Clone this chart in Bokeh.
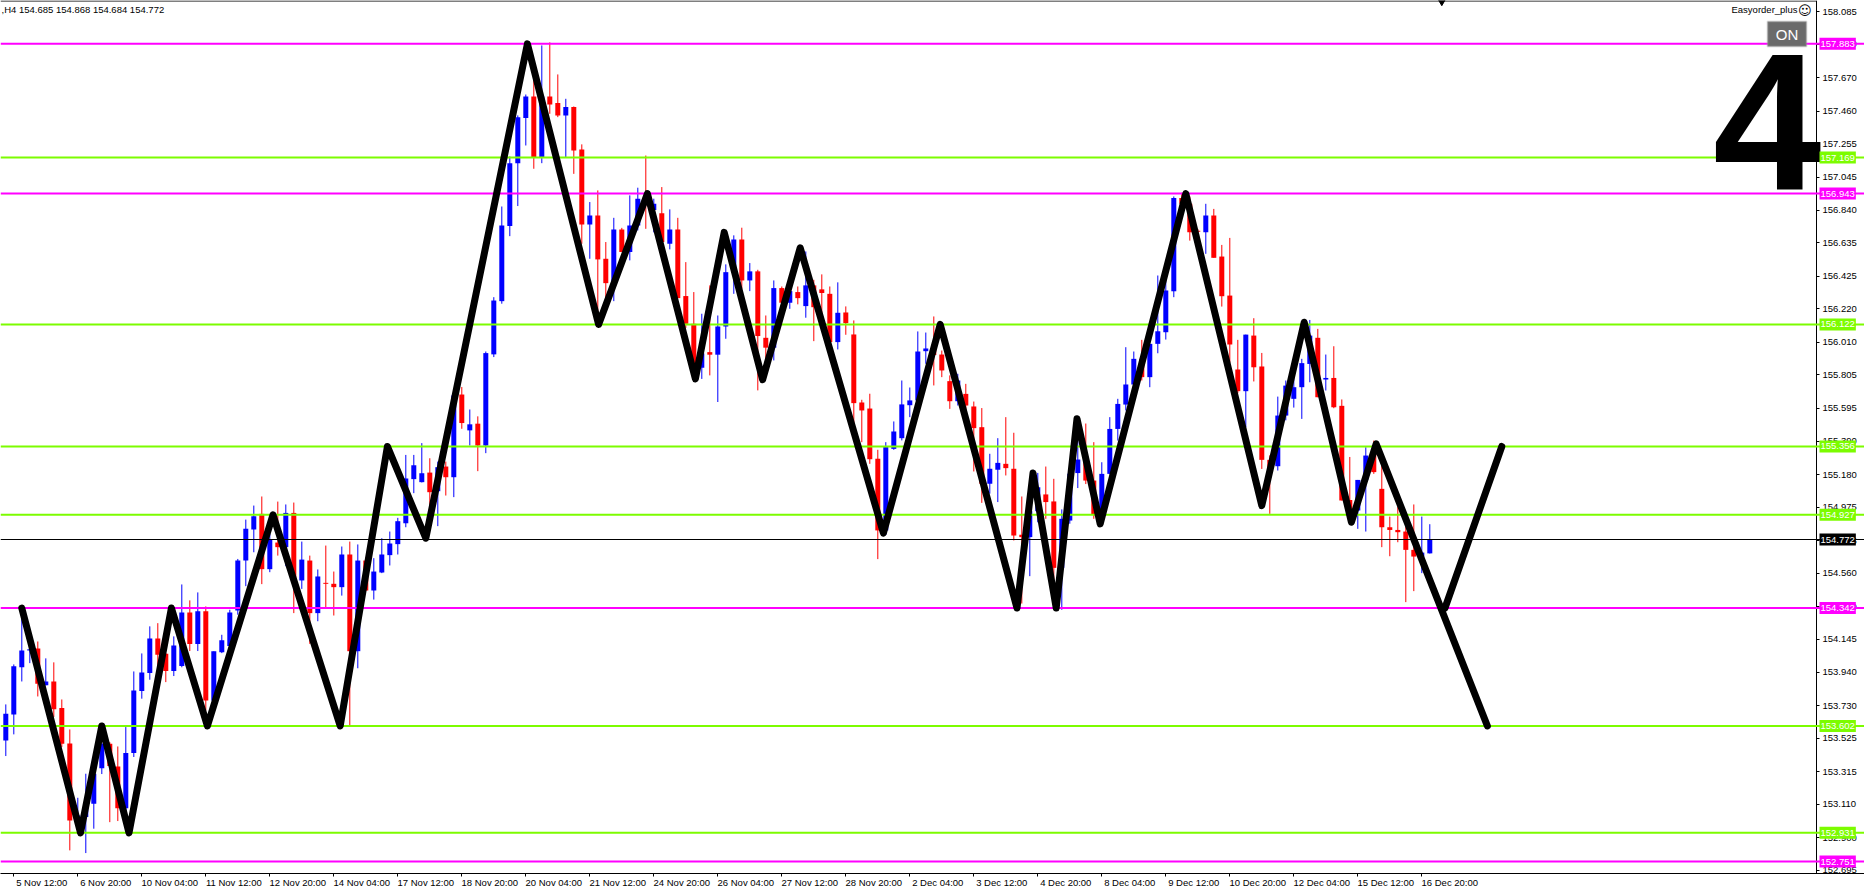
from bokeh.plotting import figure
from bokeh.models import (Span, Label, FixedTicker, PrintfTickFormatter, BoxAnnotation,
                          ColumnDataSource, Range1d, LinearAxis)
from bokeh.embed import file_html
from bokeh.resources import INLINE

# ---------------- data (H4 bars) ----------------
opens = [
    153.511, 153.674, 153.971, 154.076, 154.088, 153.858, 153.881, 153.714, 153.492, 153.009,
    153.030, 153.114, 153.337, 153.490, 153.348, 153.086, 153.432, 153.821, 153.934, 154.151,
    154.055, 153.946, 153.978, 154.314, 154.116, 154.321, 153.762, 154.065, 154.103, 154.327,
    154.640, 154.835, 154.933, 154.586, 154.753, 154.724, 154.939, 154.515, 154.640, 154.310,
    154.500, 154.494, 154.473, 154.678, 154.071, 154.640, 154.452, 154.565, 154.674, 154.743,
    154.874, 155.151, 155.132, 155.192, 155.075, 155.230, 155.163, 155.682, 155.457, 155.499,
    155.362, 155.934, 156.268, 156.739, 157.134, 157.417, 157.553, 157.172, 157.553, 157.511,
    157.434, 157.486, 157.220, 156.749, 156.806, 156.534, 156.381, 156.718, 156.576, 156.743,
    156.911, 156.840, 156.820, 156.628, 156.718, 156.300, 156.126, 155.850, 155.948, 155.932,
    156.109, 156.450, 156.655, 156.398, 156.455, 156.038, 155.976, 156.350, 156.258, 156.325,
    156.237, 156.367, 156.342, 156.314, 156.011, 156.197, 156.059, 155.632, 155.594, 155.279,
    154.829, 155.341, 155.408, 155.615, 155.645, 155.954, 155.971, 155.933, 155.766, 155.640,
    155.686, 155.607, 155.477, 155.122, 155.210, 155.247, 155.216, 154.802, 154.787, 154.950,
    155.055, 155.011, 154.594, 154.891, 155.189, 155.274, 155.142, 154.927, 155.184, 155.466,
    155.619, 155.745, 155.906, 155.791, 156.000, 156.073, 156.330, 156.916, 156.880, 156.710,
    156.701, 156.805, 156.548, 156.303, 155.839, 155.703, 156.052, 155.858, 155.272, 155.232,
    155.550, 155.655, 155.728, 155.874, 156.038, 155.776, 155.786, 155.611, 155.020, 154.954,
    155.146, 155.310, 155.090, 154.849, 154.832, 154.822, 154.707, 154.665, 154.685,
]
highs = [
    153.737, 153.988, 154.352, 154.097, 154.132, 154.026, 154.001, 153.768, 153.580, 153.151,
    153.302, 153.310, 153.595, 153.500, 153.473, 153.595, 153.944, 154.057, 154.227, 154.247,
    154.060, 154.164, 154.490, 154.390, 154.440, 154.352, 154.070, 154.174, 154.331, 154.650,
    154.897, 154.985, 155.042, 154.807, 155.010, 154.992, 155.004, 154.759, 154.671, 154.584,
    154.734, 154.571, 154.728, 154.759, 154.741, 154.660, 154.655, 154.780, 154.822, 154.908,
    155.303, 155.303, 155.377, 155.282, 155.261, 155.261, 155.690, 155.729, 155.588, 155.545,
    155.952, 156.293, 156.862, 157.176, 157.434, 157.565, 157.700, 157.873, 157.892, 157.691,
    157.538, 157.490, 157.252, 156.890, 156.963, 156.639, 156.791, 156.728, 156.932, 156.980,
    157.182, 156.911, 156.984, 156.844, 156.791, 156.513, 156.325, 156.189, 156.367, 156.178,
    156.499, 156.681, 156.729, 156.507, 156.465, 156.178, 156.398, 156.360, 156.360, 156.360,
    156.580, 156.402, 156.436, 156.360, 156.386, 156.235, 156.147, 155.649, 155.687, 155.335,
    155.383, 155.513, 155.770, 155.726, 156.078, 156.071, 156.172, 155.958, 155.802, 155.812,
    155.749, 155.638, 155.597, 155.310, 155.408, 155.540, 155.442, 155.042, 155.150, 155.190,
    155.230, 155.153, 154.961, 155.195, 155.530, 155.500, 155.383, 155.257, 155.540, 155.655,
    155.979, 155.952, 156.025, 156.000, 156.429, 156.397, 156.925, 156.948, 156.925, 156.720,
    156.879, 156.847, 156.621, 156.665, 156.025, 156.058, 156.161, 155.943, 155.300, 155.669,
    155.770, 155.800, 155.906, 156.150, 156.094, 155.933, 155.985, 155.651, 155.290, 155.146,
    155.351, 155.393, 155.236, 154.916, 154.975, 154.850, 154.992, 154.916, 154.868,
]
lows = [
    153.413, 153.549, 153.881, 153.996, 153.787, 153.856, 153.658, 153.469, 152.821, 152.925,
    152.804, 152.957, 153.300, 152.998, 153.005, 153.050, 153.407, 153.773, 153.892, 153.875,
    153.877, 153.915, 153.970, 154.072, 154.072, 153.699, 153.740, 154.059, 154.090, 154.300,
    154.479, 154.692, 154.492, 154.567, 154.671, 154.605, 154.310, 154.462, 154.117, 154.259,
    154.347, 154.295, 154.420, 153.605, 153.964, 154.450, 154.395, 154.561, 154.609, 154.678,
    154.849, 155.063, 155.130, 154.985, 154.856, 155.048, 155.038, 155.467, 155.362, 155.201,
    155.314, 155.917, 156.252, 156.676, 156.865, 157.245, 157.099, 157.134, 157.444, 157.423,
    157.172, 157.067, 156.628, 156.534, 156.126, 156.231, 156.268, 156.576, 156.524, 156.712,
    156.722, 156.700, 156.628, 156.593, 156.287, 156.100, 155.800, 155.780, 155.802, 155.635,
    156.032, 156.314, 156.346, 156.331, 155.708, 155.800, 155.896, 156.250, 156.220, 156.248,
    156.164, 156.017, 156.168, 156.011, 155.965, 156.057, 155.500, 155.383, 155.247, 154.649,
    154.800, 155.335, 155.394, 155.540, 155.640, 155.875, 155.739, 155.791, 155.592, 155.613,
    155.551, 155.199, 155.002, 155.060, 155.007, 155.174, 154.766, 154.370, 154.542, 154.880,
    154.902, 154.350, 154.331, 154.871, 155.095, 155.120, 154.902, 154.870, 155.180, 155.393,
    155.582, 155.728, 155.770, 155.728, 155.941, 156.027, 156.293, 156.820, 156.648, 156.690,
    156.565, 156.540, 156.234, 155.881, 155.690, 155.477, 155.764, 155.215, 154.933, 155.205,
    155.520, 155.600, 155.529, 155.759, 155.665, 155.707, 155.596, 155.017, 154.880, 154.839,
    154.822, 155.184, 154.724, 154.667, 154.755, 154.379, 154.448, 154.561, 154.684,
]
closes = [
    153.678, 153.976, 154.076, 154.084, 153.867, 153.881, 153.706, 153.490, 153.009, 153.040,
    153.114, 153.302, 153.490, 153.350, 153.086, 153.432, 153.825, 153.938, 154.151, 154.049,
    153.946, 154.107, 154.314, 154.116, 154.321, 153.762, 154.070, 154.139, 154.314, 154.640,
    154.839, 154.918, 154.586, 154.772, 154.724, 154.939, 154.515, 154.646, 154.310, 154.540,
    154.494, 154.473, 154.678, 154.071, 154.640, 154.452, 154.571, 154.678, 154.747, 154.887,
    155.155, 155.238, 155.188, 155.069, 155.226, 155.163, 155.676, 155.503, 155.495, 155.362,
    155.942, 156.272, 156.743, 157.134, 157.423, 157.553, 157.172, 157.553, 157.503, 157.434,
    157.486, 157.214, 156.749, 156.806, 156.530, 156.381, 156.718, 156.576, 156.743, 156.911,
    156.880, 156.880, 156.639, 156.718, 156.287, 156.126, 155.850, 155.940, 155.932, 156.109,
    156.450, 156.655, 156.398, 156.455, 156.049, 155.976, 156.350, 156.258, 156.331, 156.287,
    156.367, 156.230, 156.319, 156.011, 156.195, 156.130, 155.628, 155.582, 155.276, 154.829,
    155.352, 155.450, 155.620, 155.645, 155.952, 155.971, 155.930, 155.833, 155.640, 155.770,
    155.613, 155.471, 155.122, 155.216, 155.253, 155.220, 154.797, 154.787, 154.950, 155.100,
    155.007, 154.594, 154.902, 155.185, 155.274, 155.142, 154.927, 155.184, 155.466, 155.623,
    155.745, 155.906, 155.791, 156.000, 156.079, 156.335, 156.916, 156.880, 156.701, 156.703,
    156.805, 156.540, 156.299, 155.996, 155.703, 156.058, 155.853, 155.272, 155.200, 155.550,
    155.738, 155.728, 155.879, 156.052, 155.665, 155.786, 155.602, 155.017, 154.960, 155.146,
    155.299, 155.195, 154.849, 154.832, 154.818, 154.707, 154.665, 154.690, 154.772,
]

time_tick_bars = [1 + 8 * k for k in range(23)]
time_tick_labels = [
    "5 Nov 12:00", "6 Nov 20:00", "10 Nov 04:00", "11 Nov 12:00", "12 Nov 20:00",
    "14 Nov 04:00", "17 Nov 12:00", "18 Nov 20:00", "20 Nov 04:00", "21 Nov 12:00",
    "24 Nov 20:00", "26 Nov 04:00", "27 Nov 12:00", "28 Nov 20:00", "2 Dec 04:00",
    "3 Dec 12:00", "4 Dec 20:00", "8 Dec 04:00", "9 Dec 12:00", "10 Dec 20:00",
    "12 Dec 04:00", "15 Dec 12:00", "16 Dec 20:00",
]
price_ticks = [158.085, 157.880, 157.670, 157.460, 157.255, 157.045, 156.840, 156.635,
               156.425, 156.220, 156.010, 155.805, 155.595, 155.390, 155.180, 154.975,
               154.765, 154.560, 154.350, 154.145, 153.940, 153.730, 153.525, 153.315,
               153.110, 152.900, 152.695]

magenta_levels = [157.883, 156.943, 154.342, 152.751]
green_levels = [157.169, 156.122, 155.356, 154.927, 153.602, 152.931]

zigzag_x = [2.0, 9.34, 12.0, 15.4, 20.7, 25.2, 33.4, 41.8, 47.7, 52.5, 65.2, 74.1, 80.2,
            86.2, 89.8, 94.6, 99.3, 109.7, 116.8, 126.4, 128.4, 131.3, 133.9, 136.8,
            147.5, 157.0, 162.3, 168.2, 171.3, 185.2]
zigzag_y = [154.342, 152.931, 153.602, 152.931, 154.342, 153.602, 154.927, 153.602,
            155.356, 154.780, 157.883, 156.122, 156.943, 155.780, 156.700, 155.775,
            156.603, 154.812, 156.122, 154.342, 155.189, 154.342, 155.530, 154.870,
            156.943, 154.985, 156.136, 154.880, 155.372, 153.602]
branch_x = [179.9, 187.0]
branch_y = [154.342, 155.356]

shift_marker_bar = [179.5]

# ---------------- geometry (canvas pixels) ----------------
FW, FH = 1864, 873          # frame covers chart + price-scale strip
AXIS_PX = 1816              # where the price scale line sits
BAR_PX = 8
X0 = -5.3 / BAR_PX
X1 = X0 + FW / BAR_PX
XA = X0 + AXIS_PX / BAR_PX
Y1 = 158.155
Y0 = Y1 - FH / 159.33
LABEL_SHIFT = 3.5           # bars between a time tick and the centre of its label


def dx(px):
    return X0 + px / BAR_PX


def dy(py):
    return Y1 - py * (Y1 - Y0) / FH


FONT = "Liberation Sans"
FS = "9.5px"

p = figure(frame_width=FW, frame_height=FH,
           x_range=Range1d(X0, X1), y_range=Range1d(Y0, Y1),
           y_axis_location=None, output_backend="svg", toolbar_location=None,
           min_border_left=0, min_border_top=0, min_border_right=0, min_border_bottom=0,
           background_fill_color="white", border_fill_color="white",
           outline_line_color=None)
p.grid.visible = False

# x axis: tick marks only
tick_axis = p.xaxis[0]
tick_axis.ticker = FixedTicker(ticks=time_tick_bars)
tick_axis.major_label_overrides = {t: "" for t in time_tick_bars}
tick_axis.major_label_text_font_size = "1px"
tick_axis.major_label_standoff = 0
tick_axis.major_tick_out = 3
tick_axis.major_tick_in = 0
tick_axis.minor_tick_out = 0
tick_axis.minor_tick_in = 0
tick_axis.axis_line_color = "black"
tick_axis.major_tick_line_color = "black"

# x axis: labels, written to the right of each tick
label_pos = [t + LABEL_SHIFT for t in time_tick_bars]
lab_axis = LinearAxis(ticker=FixedTicker(ticks=label_pos),
                      major_label_overrides={lp: lab for lp, lab in zip(label_pos, time_tick_labels)},
                      axis_line_color=None, major_tick_line_color=None,
                      minor_tick_line_color=None, major_tick_out=0, major_tick_in=0,
                      minor_tick_out=0, minor_tick_in=0, major_label_standoff=0,
                      major_label_text_font=FONT, major_label_text_font_size=FS,
                      major_label_text_color="black")
p.add_layout(lab_axis, "below")

# price scale on the right
yax = LinearAxis(ticker=FixedTicker(ticks=price_ticks),
                 formatter=PrintfTickFormatter(format="%.3f"),
                 fixed_location=XA, major_tick_out=3, major_tick_in=0,
                 minor_tick_out=0, minor_tick_in=0, major_label_standoff=3,
                 major_label_text_font=FONT, major_label_text_font_size=FS,
                 major_label_text_color="black", axis_line_color="black",
                 major_tick_line_color="black")
p.add_layout(yax, "right")

# top border of the chart
p.segment(x0=[X0], y0=[dy(0.5)], x1=[XA], y1=[dy(0.5)], line_color="black", line_width=1)

# ---------------- candles ----------------
n = len(opens)
idx = list(range(n))
colors = ["#0000FF" if c >= o else "#FF0000" for o, c in zip(opens, closes)]
tops, bots = [], []
for o, c in zip(opens, closes):
    t, b = max(o, c), min(o, c)
    if t - b < 0.006:
        m = (t + b) / 2
        t, b = m + 0.003, m - 0.003
    tops.append(t)
    bots.append(b)
src = ColumnDataSource(dict(x=idx, high=highs, low=lows, top=tops, bottom=bots, color=colors))
p.segment(x0="x", y0="high", x1="x", y1="low", line_color="color", line_width=1, source=src)
p.vbar(x="x", width=5 / BAR_PX, top="top", bottom="bottom", fill_color="color",
       line_color=None, source=src)

# ---------------- horizontal levels ----------------
for lv in magenta_levels:
    p.add_layout(Span(location=lv, dimension="width", line_color="#FF00FF", line_width=2))
for lv in green_levels:
    p.add_layout(Span(location=lv, dimension="width", line_color="#7CFC00", line_width=2))
bid = closes[-1]
p.add_layout(Span(location=bid, dimension="width", line_color="black", line_width=1))

# ---------------- zigzag ----------------
r1 = p.line(zigzag_x, zigzag_y, line_color="black", line_width=7,
            line_join="round", line_cap="round")
r2 = p.line(branch_x, branch_y, line_color="black", line_width=7,
            line_join="round", line_cap="round")
r1.level = "overlay"
r2.level = "overlay"

# shift marker at top
p.scatter(shift_marker_bar, [Y1], marker="inverted_triangle", size=9,
          fill_color="black", line_color="black")

# big "4"
big4 = Label(x=dx(1821), y=dy(121), text="4", text_color="black",
             text_font=FONT, text_font_size="195px", text_font_style="bold",
             text_align="right", text_baseline="alphabetic")
big4.level = "overlay"
p.add_layout(big4)

# ---------------- price labels on the scale ----------------
axis_labels = ([(lv, "#FF00FF") for lv in magenta_levels] +
               [(lv, "#7CFC00") for lv in green_levels] + [(bid, "black")])
for lv, col in axis_labels:
    lab = Label(x=dx(AXIS_PX + 3), y=lv, text=f"{lv:.3f}", text_color="white",
                text_font=FONT, text_font_size=FS, text_align="left",
                text_baseline="middle", background_fill_color=col,
                padding=(1, 3))
    lab.level = "overlay"
    p.add_layout(lab)

# header text
p.add_layout(Label(x=dx(1), y=dy(3),
                   text=f",H4  {opens[-1]:.3f} {highs[-1]:.3f} {lows[-1]:.3f} {closes[-1]:.3f}",
                   text_font=FONT, text_font_size=FS, text_color="black",
                   text_align="left", text_baseline="top"))
p.add_layout(Label(x=dx(1797), y=dy(3), text="Easyorder_plus",
                   text_font=FONT, text_font_size=FS, text_color="black",
                   text_align="right", text_baseline="top"))
p.add_layout(Label(x=dx(1811), y=dy(2), text="\u263a",
                   text_font="DejaVu Sans", text_font_size="13px", text_color="black",
                   text_align="right", text_baseline="top"))

# ON button
p.add_layout(BoxAnnotation(left=dx(1767), right=dx(1806), top=dy(21), bottom=dy(46),
                           fill_color="#6b6b6b", fill_alpha=1.0,
                           line_color="#a8a8a8", line_width=2))
p.add_layout(Label(x=dx(1786.5), y=dy(33.5), text="ON", text_color="white",
                   text_font=FONT, text_font_size="15px", text_align="center",
                   text_baseline="middle"))

open("out.html", "w").write(file_html(p, INLINE))
